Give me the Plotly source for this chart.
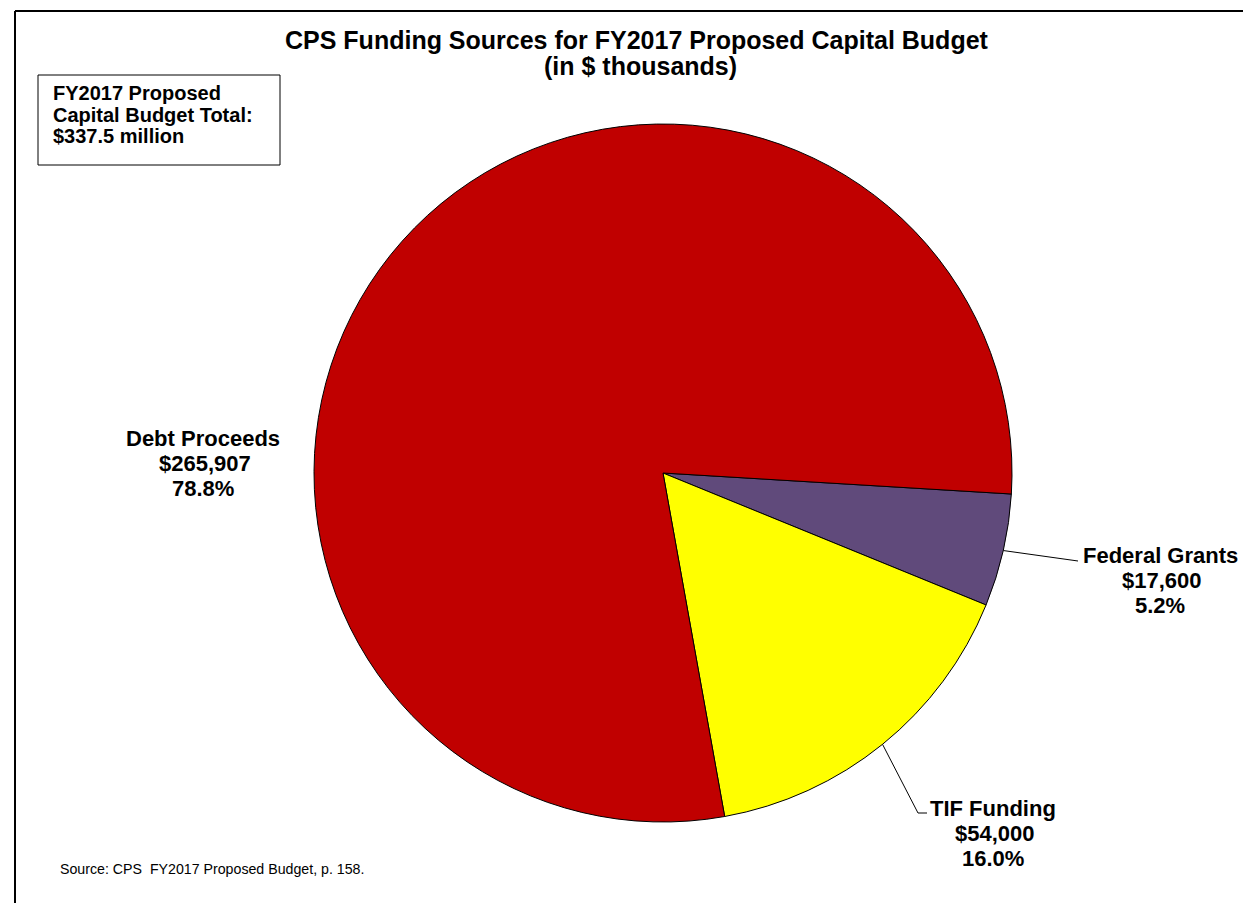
import math
import plotly.graph_objects as go

W, H = 1251, 903

# ---- data ----
categories = ["Federal Grants", "TIF Funding", "Debt Proceeds"]
values = [17600, 54000, 265907]          # $ thousands
value_labels = ["$17,600", "$54,000", "$265,907"]
pct_labels = ["5.2%", "16.0%", "78.8%"]
colors = ["#604A7B", "#FFFF00", "#C00000"]
total_label = "$337.5 million"

title_lines = ["CPS Funding Sources for FY2017 Proposed Capital Budget", "(in $ thousands)"]
box_lines = ["FY2017 Proposed", "Capital Budget Total:", total_label]
source_text = "Source: CPS  FY2017 Proposed Budget, p. 158."

FONT = "Liberation Sans, Arial, sans-serif"

# pie geometry (pixels)
CX, CY, R = 655, 465, 349
ROT = 93.45

def px(x):
    return x / W

def py(y):
    return 1 - y / H

fig = go.Figure()
fig.add_trace(go.Pie(
    labels=categories,
    values=values,
    sort=False,
    direction="clockwise",
    rotation=ROT,
    textinfo="none",
    hoverinfo="label+value+percent",
    marker=dict(colors=colors, line=dict(color="black", width=1)),
    domain=dict(x=[px(CX - R), px(CX + R)], y=[py(CY + R), py(CY - R)]),
    showlegend=False,
))

# slice mid-angle edge points from the data
tot = sum(values)
edge = {}
acc = 0
for c, v in zip(categories, values):
    mid = ROT + (acc + v / 2) / tot * 360
    th = math.radians(mid)
    edge[c] = (CX + R * math.sin(th), CY - R * math.cos(th))
    acc += v

shapes = []
# frame (top + left)
shapes.append(dict(type="line", xref="paper", yref="paper", x0=px(7), x1=px(W), y0=py(3), y1=py(3),
                   line=dict(color="black", width=2)))
shapes.append(dict(type="line", xref="paper", yref="paper", x0=px(7), x1=px(7), y0=py(3), y1=py(H),
                   line=dict(color="black", width=2)))
# text box
shapes.append(dict(type="rect", xref="paper", yref="paper", x0=px(30), x1=px(272), y0=py(67), y1=py(157),
                   line=dict(color="black", width=1), fillcolor="white"))
# leader lines
ex, ey = edge["Federal Grants"]
shapes.append(dict(type="path", xref="paper", yref="paper",
                   path=f"M {px(ex)} {py(ey)} L {px(1070)} {py(553)}",
                   line=dict(color="black", width=1)))
ex, ey = edge["TIF Funding"]
shapes.append(dict(type="path", xref="paper", yref="paper",
                   path=f"M {px(ex)} {py(ey)} L {px(910)} {py(805)} L {px(919)} {py(805)}",
                   line=dict(color="black", width=1)))

ann = []
def txt(x, y, s, size, bold=True, xanchor="center"):
    ann.append(dict(x=px(x), y=py(y), xref="paper", yref="paper", text=(f"<b>{s}</b>" if bold else s),
                    showarrow=False, xanchor=xanchor, yanchor="middle",
                    font=dict(family=FONT, size=size, color="black")))

# title
txt(629, 32, title_lines[0], 25)
txt(632, 58, title_lines[1], 25)

# box text
for i, s in enumerate(box_lines):
    txt(43, 85 + i * 21.5, s, 20, xanchor="left")

# slice labels
label_pos = {
    "Debt Proceeds": (195, 430),
    "Federal Grants": (1152, 547),
    "TIF Funding": (985, 800),
}
for c, vl, pl in zip(categories, value_labels, pct_labels):
    x, y = label_pos[c]
    txt(x, y, c, 22)
    txt(x + 2, y + 25, vl, 22)
    txt(x, y + 50, pl, 22)

# source
txt(50, 861, source_text, 14.2, bold=False, xanchor="left")

fig.update_layout(
    width=W, height=H,
    margin=dict(l=0, r=0, t=0, b=0),
    paper_bgcolor="white",
    plot_bgcolor="white",
    shapes=shapes,
    annotations=ann,
)

fig.write_html("out.html")
